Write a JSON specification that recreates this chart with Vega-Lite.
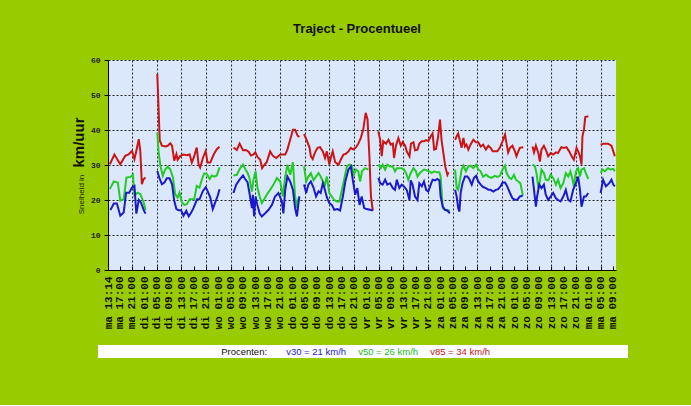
{
  "$schema": "https://vega.github.io/schema/vega-lite/v6.json",
  "background": "#99cc00",
  "padding": {"left": 71, "top": 23, "right": 64, "bottom": 47},
  "config": {"view": {"stroke": null}, "font": "Liberation Sans"},
  "spacing": 16,
  "center": true,
  "resolve": {"scale": {"x": "independent", "y": "independent", "color": "independent"}},
  "vconcat": [
    {
      "width": 508,
      "height": 210,
      "view": {"fill": "#dbe8fc", "stroke": null},
      "title": {"text": "Traject - Procentueel", "font": "Liberation Sans", "fontSize": 13, "fontWeight": "bold", "color": "#111111", "offset": 20, "anchor": "middle", "frame": "group", "dx": -5},
      "data": {"values": [
        {"s":"v85","g":1,"t":13.8,"v":30.2},{"s":"v85","g":1,"t":15.3,"v":33},{"s":"v85","g":1,"t":17.2,"v":30.2},{"s":"v85","g":1,"t":18.8,"v":32.6},{"s":"v85","g":1,"t":19.9,"v":33},{"s":"v85","g":1,"t":21,"v":34},{"s":"v85","g":1,"t":21.8,"v":31.7},{"s":"v85","g":1,"t":22.4,"v":34},{"s":"v85","g":1,"t":23.2,"v":37.4},{"s":"v85","g":1,"t":23.7,"v":34},{"s":"v85","g":1,"t":24.2,"v":24.5},{"s":"v85","g":1,"t":24.8,"v":26},{"s":"v85","g":1,"t":25.4,"v":26.4},
        {"s":"v85","g":2,"t":29.2,"v":56},{"s":"v85","g":2,"t":30,"v":37},{"s":"v85","g":2,"t":30.7,"v":35.5},{"s":"v85","g":2,"t":31.8,"v":35.3},{"s":"v85","g":2,"t":32.6,"v":35.5},{"s":"v85","g":2,"t":33.4,"v":36.2},{"s":"v85","g":2,"t":34,"v":35.5},{"s":"v85","g":2,"t":34.7,"v":31.2},{"s":"v85","g":2,"t":35.4,"v":33.1},{"s":"v85","g":2,"t":35.8,"v":31.5},{"s":"v85","g":2,"t":36.7,"v":32.6},{"s":"v85","g":2,"t":37.7,"v":33},{"s":"v85","g":2,"t":38.8,"v":32.8},{"s":"v85","g":2,"t":39.7,"v":33},{"s":"v85","g":2,"t":40.4,"v":30.7},{"s":"v85","g":2,"t":41,"v":32},{"s":"v85","g":2,"t":42,"v":35},{"s":"v85","g":2,"t":42.6,"v":30.2},{"s":"v85","g":2,"t":43.1,"v":29.3},{"s":"v85","g":2,"t":44,"v":32},{"s":"v85","g":2,"t":44.9,"v":34},{"s":"v85","g":2,"t":45.5,"v":30.7},{"s":"v85","g":2,"t":46.4,"v":30.7},{"s":"v85","g":2,"t":47.5,"v":33},{"s":"v85","g":2,"t":48.5,"v":34.5},{"s":"v85","g":2,"t":49.4,"v":35.2},
        {"s":"v85","g":3,"t":53.9,"v":35},{"s":"v85","g":3,"t":55,"v":34.3},{"s":"v85","g":3,"t":55.9,"v":36.1},{"s":"v85","g":3,"t":57,"v":34.2},{"s":"v85","g":3,"t":58,"v":34.3},{"s":"v85","g":3,"t":58.8,"v":33.8},{"s":"v85","g":3,"t":59.6,"v":32.7},{"s":"v85","g":3,"t":60.4,"v":33},{"s":"v85","g":3,"t":61,"v":33.6},{"s":"v85","g":3,"t":61.7,"v":32.3},{"s":"v85","g":3,"t":62.6,"v":31.5},{"s":"v85","g":3,"t":63.2,"v":29.1},{"s":"v85","g":3,"t":63.9,"v":30},{"s":"v85","g":3,"t":64.7,"v":30.8},{"s":"v85","g":3,"t":65.8,"v":33.9},{"s":"v85","g":3,"t":66.7,"v":32.6},{"s":"v85","g":3,"t":67.8,"v":32},{"s":"v85","g":3,"t":69.1,"v":33},{"s":"v85","g":3,"t":70.7,"v":33},{"s":"v85","g":3,"t":71.4,"v":34.4},{"s":"v85","g":3,"t":72.3,"v":37.2},{"s":"v85","g":3,"t":73.2,"v":40.1},{"s":"v85","g":3,"t":73.9,"v":40.1},{"s":"v85","g":3,"t":74.7,"v":38.4},{"s":"v85","g":3,"t":75.3,"v":38},
        {"s":"v85","g":4,"t":76.8,"v":38.8},{"s":"v85","g":4,"t":77.7,"v":37},{"s":"v85","g":4,"t":78.6,"v":34.9},{"s":"v85","g":4,"t":79,"v":32.5},{"s":"v85","g":4,"t":79.6,"v":31.7},{"s":"v85","g":4,"t":80.4,"v":33.7},{"s":"v85","g":4,"t":81.2,"v":34.9},{"s":"v85","g":4,"t":82,"v":35.1},{"s":"v85","g":4,"t":82.9,"v":33.9},{"s":"v85","g":4,"t":83.6,"v":32},{"s":"v85","g":4,"t":84.2,"v":33.9},{"s":"v85","g":4,"t":85,"v":30.1},{"s":"v85","g":4,"t":85.6,"v":32.5},{"s":"v85","g":4,"t":86.1,"v":33.9},{"s":"v85","g":4,"t":86.9,"v":30.8},{"s":"v85","g":4,"t":88,"v":30.1},{"s":"v85","g":4,"t":88.7,"v":31.5},{"s":"v85","g":4,"t":89.6,"v":33},{"s":"v85","g":4,"t":90.4,"v":33.2},{"s":"v85","g":4,"t":91.2,"v":33.9},{"s":"v85","g":4,"t":92,"v":34.9},{"s":"v85","g":4,"t":92.8,"v":34.4},{"s":"v85","g":4,"t":93.7,"v":35.1},{"s":"v85","g":4,"t":94.4,"v":36.1},{"s":"v85","g":4,"t":95.2,"v":37.7},{"s":"v85","g":4,"t":96,"v":40.1},{"s":"v85","g":4,"t":96.8,"v":44.9},{"s":"v85","g":4,"t":97.4,"v":43},{"s":"v85","g":4,"t":98,"v":32.5},{"s":"v85","g":4,"t":98.5,"v":21},{"s":"v85","g":4,"t":99.1,"v":17},
        {"s":"v85","g":5,"t":100.9,"v":39.6},{"s":"v85","g":5,"t":101.5,"v":37.2},{"s":"v85","g":5,"t":102,"v":32.5},{"s":"v85","g":5,"t":102.5,"v":36.8},{"s":"v85","g":5,"t":103.4,"v":36.1},{"s":"v85","g":5,"t":104.2,"v":37.2},{"s":"v85","g":5,"t":104.9,"v":35.8},{"s":"v85","g":5,"t":105.6,"v":36.1},{"s":"v85","g":5,"t":106,"v":32},{"s":"v85","g":5,"t":106.6,"v":35.5},{"s":"v85","g":5,"t":107.4,"v":37.7},{"s":"v85","g":5,"t":108.2,"v":35.5},{"s":"v85","g":5,"t":108.8,"v":36.5},{"s":"v85","g":5,"t":109.6,"v":35.5},{"s":"v85","g":5,"t":110.1,"v":33.9},{"s":"v85","g":5,"t":111,"v":32.5},{"s":"v85","g":5,"t":111.5,"v":36.1},{"s":"v85","g":5,"t":112.3,"v":36.5},{"s":"v85","g":5,"t":112.8,"v":34.2},{"s":"v85","g":5,"t":113.6,"v":34.4},{"s":"v85","g":5,"t":114.2,"v":36.1},{"s":"v85","g":5,"t":115,"v":36.8},{"s":"v85","g":5,"t":115.7,"v":36.8},{"s":"v85","g":5,"t":116.4,"v":37.1},{"s":"v85","g":5,"t":117.1,"v":36.8},{"s":"v85","g":5,"t":117.9,"v":38.2},{"s":"v85","g":5,"t":118.5,"v":39},{"s":"v85","g":5,"t":119,"v":34.4},{"s":"v85","g":5,"t":119.6,"v":34.6},{"s":"v85","g":5,"t":120.3,"v":38.2},{"s":"v85","g":5,"t":120.9,"v":43},{"s":"v85","g":5,"t":121.4,"v":37.2},{"s":"v85","g":5,"t":122,"v":33.4},{"s":"v85","g":5,"t":122.6,"v":29.6},{"s":"v85","g":5,"t":123.3,"v":27.2},{"s":"v85","g":5,"t":123.7,"v":27.9},
        {"s":"v85","g":6,"t":125.8,"v":37.2},{"s":"v85","g":6,"t":126.3,"v":38.2},{"s":"v85","g":6,"t":126.8,"v":39},{"s":"v85","g":6,"t":127.4,"v":36.8},{"s":"v85","g":6,"t":127.9,"v":34.9},{"s":"v85","g":6,"t":128.5,"v":37.7},{"s":"v85","g":6,"t":129,"v":35.3},{"s":"v85","g":6,"t":129.5,"v":35.8},{"s":"v85","g":6,"t":130.1,"v":34.4},{"s":"v85","g":6,"t":130.8,"v":35.8},{"s":"v85","g":6,"t":131.7,"v":37.2},{"s":"v85","g":6,"t":132.6,"v":36.5},{"s":"v85","g":6,"t":133.3,"v":36.5},{"s":"v85","g":6,"t":134.1,"v":35.3},{"s":"v85","g":6,"t":134.9,"v":35.8},{"s":"v85","g":6,"t":135.8,"v":34.4},{"s":"v85","g":6,"t":136.6,"v":35.5},{"s":"v85","g":6,"t":137.3,"v":34.9},{"s":"v85","g":6,"t":138,"v":33.9},{"s":"v85","g":6,"t":138.7,"v":33.9},{"s":"v85","g":6,"t":139.5,"v":33.9},{"s":"v85","g":6,"t":140.3,"v":34.9},{"s":"v85","g":6,"t":141.2,"v":36.8},{"s":"v85","g":6,"t":142,"v":38.7},{"s":"v85","g":6,"t":142.5,"v":36.1},{"s":"v85","g":6,"t":143,"v":33.6},{"s":"v85","g":6,"t":143.6,"v":34.9},{"s":"v85","g":6,"t":144.4,"v":35.5},{"s":"v85","g":6,"t":145.2,"v":33.9},{"s":"v85","g":6,"t":145.7,"v":32.5},{"s":"v85","g":6,"t":146.3,"v":33.9},{"s":"v85","g":6,"t":146.8,"v":34.9},{"s":"v85","g":6,"t":147.9,"v":35.1},
        {"s":"v85","g":7,"t":150.9,"v":35.3},{"s":"v85","g":7,"t":151.4,"v":33.6},{"s":"v85","g":7,"t":152,"v":35.5},{"s":"v85","g":7,"t":152.8,"v":33.4},{"s":"v85","g":7,"t":153.3,"v":31},{"s":"v85","g":7,"t":153.8,"v":34.4},{"s":"v85","g":7,"t":154.6,"v":35.5},{"s":"v85","g":7,"t":155.2,"v":34.4},{"s":"v85","g":7,"t":156,"v":32.5},{"s":"v85","g":7,"t":156.8,"v":33.4},{"s":"v85","g":7,"t":157.6,"v":33},{"s":"v85","g":7,"t":158.5,"v":33.6},{"s":"v85","g":7,"t":159.2,"v":33.4},{"s":"v85","g":7,"t":159.8,"v":34.4},{"s":"v85","g":7,"t":160.3,"v":35.1},{"s":"v85","g":7,"t":161.1,"v":34.9},{"s":"v85","g":7,"t":161.9,"v":35.1},{"s":"v85","g":7,"t":162.8,"v":33.9},{"s":"v85","g":7,"t":163.6,"v":32.5},{"s":"v85","g":7,"t":164.3,"v":31.5},{"s":"v85","g":7,"t":165.2,"v":34.9},{"s":"v85","g":7,"t":165.7,"v":33.9},{"s":"v85","g":7,"t":166.3,"v":32.5},{"s":"v85","g":7,"t":166.8,"v":30.1},{"s":"v85","g":7,"t":167.1,"v":38.2},{"s":"v85","g":7,"t":167.6,"v":40.1},{"s":"v85","g":7,"t":168,"v":43.7},{"s":"v85","g":7,"t":169,"v":43.9},
        {"s":"v85","g":8,"t":173,"v":35.8},{"s":"v85","g":8,"t":174,"v":36.1},{"s":"v85","g":8,"t":175.4,"v":36.1},{"s":"v85","g":8,"t":176.5,"v":35.5},{"s":"v85","g":8,"t":177.3,"v":33.4},{"s":"v85","g":8,"t":177.6,"v":32.5},

        {"s":"v50","g":1,"t":13.8,"v":23.1},{"s":"v50","g":1,"t":15.1,"v":25.3},{"s":"v50","g":1,"t":16.4,"v":25},{"s":"v50","g":1,"t":17.2,"v":19.8},{"s":"v50","g":1,"t":18.3,"v":20.2},{"s":"v50","g":1,"t":19.2,"v":26.4},{"s":"v50","g":1,"t":20.5,"v":26.6},{"s":"v50","g":1,"t":21.3,"v":27.2},{"s":"v50","g":1,"t":21.8,"v":21.2},{"s":"v50","g":1,"t":22.8,"v":22.1},{"s":"v50","g":1,"t":23.7,"v":21.7},{"s":"v50","g":1,"t":24.8,"v":19.3},{"s":"v50","g":1,"t":25.4,"v":17.1},
        {"s":"v50","g":2,"t":29.2,"v":39.3},{"s":"v50","g":2,"t":29.6,"v":34},{"s":"v50","g":2,"t":30.2,"v":29.8},{"s":"v50","g":2,"t":31,"v":26.9},{"s":"v50","g":2,"t":31.8,"v":28.8},{"s":"v50","g":2,"t":32.6,"v":29.5},{"s":"v50","g":2,"t":33.4,"v":28.8},{"s":"v50","g":2,"t":34.3,"v":26.4},{"s":"v50","g":2,"t":35,"v":21.7},{"s":"v50","g":2,"t":35.8,"v":20.7},{"s":"v50","g":2,"t":36.4,"v":22.1},{"s":"v50","g":2,"t":37.2,"v":19.3},{"s":"v50","g":2,"t":38,"v":18.6},{"s":"v50","g":2,"t":38.8,"v":18.8},{"s":"v50","g":2,"t":39.7,"v":20.2},{"s":"v50","g":2,"t":40.4,"v":20.2},{"s":"v50","g":2,"t":41.2,"v":20.2},{"s":"v50","g":2,"t":42,"v":24},{"s":"v50","g":2,"t":42.9,"v":23.5},{"s":"v50","g":2,"t":43.7,"v":26},{"s":"v50","g":2,"t":44.4,"v":27.6},{"s":"v50","g":2,"t":45.3,"v":27.4},{"s":"v50","g":2,"t":46.2,"v":26},{"s":"v50","g":2,"t":46.9,"v":27},{"s":"v50","g":2,"t":47.7,"v":26.7},{"s":"v50","g":2,"t":48.5,"v":27},{"s":"v50","g":2,"t":49.4,"v":29.3},
        {"s":"v50","g":3,"t":53.9,"v":27},{"s":"v50","g":3,"t":55,"v":27.2},{"s":"v50","g":3,"t":56.1,"v":29.1},{"s":"v50","g":3,"t":57,"v":30.1},{"s":"v50","g":3,"t":57.8,"v":28.7},{"s":"v50","g":3,"t":58.5,"v":27.7},{"s":"v50","g":3,"t":59.1,"v":26.3},{"s":"v50","g":3,"t":59.9,"v":22.4},{"s":"v50","g":3,"t":60.4,"v":25.8},{"s":"v50","g":3,"t":61.1,"v":28.2},{"s":"v50","g":3,"t":61.7,"v":23.4},{"s":"v50","g":3,"t":62.4,"v":21},{"s":"v50","g":3,"t":63.1,"v":19.1},{"s":"v50","g":3,"t":63.9,"v":20.2},{"s":"v50","g":3,"t":64.7,"v":21.5},{"s":"v50","g":3,"t":65.8,"v":22.9},{"s":"v50","g":3,"t":66.9,"v":24.4},{"s":"v50","g":3,"t":68,"v":26.3},{"s":"v50","g":3,"t":69.1,"v":25.3},{"s":"v50","g":3,"t":69.9,"v":21},{"s":"v50","g":3,"t":70.7,"v":26.7},{"s":"v50","g":3,"t":71.4,"v":30.1},{"s":"v50","g":3,"t":72.3,"v":27.2},{"s":"v50","g":3,"t":73.2,"v":30.8},{"s":"v50","g":3,"t":73.9,"v":21},{"s":"v50","g":3,"t":74.5,"v":17.7},{"s":"v50","g":3,"t":75,"v":20.5},{"s":"v50","g":3,"t":75.3,"v":21},
        {"s":"v50","g":4,"t":76.8,"v":29.6},{"s":"v50","g":4,"t":77.5,"v":25.3},{"s":"v50","g":4,"t":78.2,"v":26.7},{"s":"v50","g":4,"t":79,"v":27.7},{"s":"v50","g":4,"t":79.9,"v":25.6},{"s":"v50","g":4,"t":80.7,"v":26.7},{"s":"v50","g":4,"t":81.5,"v":27.7},{"s":"v50","g":4,"t":82.2,"v":26.7},{"s":"v50","g":4,"t":82.9,"v":25.3},{"s":"v50","g":4,"t":83.6,"v":24.4},{"s":"v50","g":4,"t":84.2,"v":26.7},{"s":"v50","g":4,"t":85,"v":22},{"s":"v50","g":4,"t":85.8,"v":21},{"s":"v50","g":4,"t":86.6,"v":20},{"s":"v50","g":4,"t":87.4,"v":19.6},{"s":"v50","g":4,"t":88.3,"v":19.6},{"s":"v50","g":4,"t":89,"v":22.5},{"s":"v50","g":4,"t":89.8,"v":25.8},{"s":"v50","g":4,"t":90.7,"v":29.6},{"s":"v50","g":4,"t":91.5,"v":30.1},{"s":"v50","g":4,"t":92.3,"v":29.8},{"s":"v50","g":4,"t":93,"v":27.2},{"s":"v50","g":4,"t":93.7,"v":28.7},{"s":"v50","g":4,"t":94.4,"v":28.2},{"s":"v50","g":4,"t":95,"v":25.3},{"s":"v50","g":4,"t":95.6,"v":28.2},{"s":"v50","g":4,"t":96.6,"v":29.1},{"s":"v50","g":4,"t":97.7,"v":28.7},
        {"s":"v50","g":5,"t":100.9,"v":30.1},{"s":"v50","g":5,"t":101.7,"v":29.1},{"s":"v50","g":5,"t":102.3,"v":30.1},{"s":"v50","g":5,"t":103.1,"v":28.7},{"s":"v50","g":5,"t":103.8,"v":30.1},{"s":"v50","g":5,"t":104.7,"v":29.6},{"s":"v50","g":5,"t":105.6,"v":29.6},{"s":"v50","g":5,"t":106.3,"v":28.2},{"s":"v50","g":5,"t":106.9,"v":29.1},{"s":"v50","g":5,"t":107.7,"v":29.1},{"s":"v50","g":5,"t":108.5,"v":29.1},{"s":"v50","g":5,"t":109.2,"v":28.7},{"s":"v50","g":5,"t":109.9,"v":27.7},{"s":"v50","g":5,"t":110.6,"v":25.8},{"s":"v50","g":5,"t":111.4,"v":27.7},{"s":"v50","g":5,"t":112.3,"v":29.1},{"s":"v50","g":5,"t":113.1,"v":28.2},{"s":"v50","g":5,"t":113.6,"v":26.7},{"s":"v50","g":5,"t":114.2,"v":27.5},{"s":"v50","g":5,"t":115,"v":28.2},{"s":"v50","g":5,"t":115.7,"v":28.7},{"s":"v50","g":5,"t":116.6,"v":28.5},{"s":"v50","g":5,"t":117.4,"v":28.2},{"s":"v50","g":5,"t":118.2,"v":27.7},{"s":"v50","g":5,"t":119,"v":28.2},{"s":"v50","g":5,"t":119.8,"v":27.9},{"s":"v50","g":5,"t":120.7,"v":27.9},{"s":"v50","g":5,"t":121.1,"v":26.7},{"s":"v50","g":5,"t":121.4,"v":22.9},{"s":"v50","g":5,"t":121.8,"v":17.7},{"s":"v50","g":5,"t":122.5,"v":17.2},{"s":"v50","g":5,"t":123.3,"v":17},{"s":"v50","g":5,"t":124.1,"v":17},
        {"s":"v50","g":6,"t":125.8,"v":28.7},{"s":"v50","g":6,"t":126.3,"v":23.4},{"s":"v50","g":6,"t":126.8,"v":22.9},{"s":"v50","g":6,"t":127.4,"v":25.8},{"s":"v50","g":6,"t":127.9,"v":28.7},{"s":"v50","g":6,"t":128.5,"v":29.8},{"s":"v50","g":6,"t":129.3,"v":28.2},{"s":"v50","g":6,"t":130.1,"v":29.6},{"s":"v50","g":6,"t":130.8,"v":29.8},{"s":"v50","g":6,"t":131.7,"v":29.1},{"s":"v50","g":6,"t":132.6,"v":30.1},{"s":"v50","g":6,"t":133.3,"v":28.7},{"s":"v50","g":6,"t":134.1,"v":28.2},{"s":"v50","g":6,"t":134.9,"v":26.6},{"s":"v50","g":6,"t":135.8,"v":27.3},{"s":"v50","g":6,"t":136.6,"v":26.7},{"s":"v50","g":6,"t":137.6,"v":26.3},{"s":"v50","g":6,"t":138.7,"v":26.9},{"s":"v50","g":6,"t":139.5,"v":26.6},{"s":"v50","g":6,"t":140.3,"v":26.9},{"s":"v50","g":6,"t":141.2,"v":28.7},{"s":"v50","g":6,"t":142,"v":29.8},{"s":"v50","g":6,"t":142.5,"v":27.7},{"s":"v50","g":6,"t":143.4,"v":26.3},{"s":"v50","g":6,"t":144.1,"v":26},{"s":"v50","g":6,"t":144.9,"v":27.2},{"s":"v50","g":6,"t":145.5,"v":25.8},{"s":"v50","g":6,"t":146.3,"v":25.3},{"s":"v50","g":6,"t":147,"v":24.8},{"s":"v50","g":6,"t":147.7,"v":21.5},{"s":"v50","g":6,"t":147.9,"v":21.2},
        {"s":"v50","g":7,"t":150.9,"v":30.1},{"s":"v50","g":7,"t":151.7,"v":29.6},{"s":"v50","g":7,"t":152.2,"v":27.7},{"s":"v50","g":7,"t":152.8,"v":23.4},{"s":"v50","g":7,"t":153.3,"v":25.3},{"s":"v50","g":7,"t":153.8,"v":28.7},{"s":"v50","g":7,"t":154.6,"v":27.7},{"s":"v50","g":7,"t":155.2,"v":25.8},{"s":"v50","g":7,"t":156,"v":25.6},{"s":"v50","g":7,"t":156.8,"v":27.2},{"s":"v50","g":7,"t":157.6,"v":26.3},{"s":"v50","g":7,"t":158.5,"v":24.4},{"s":"v50","g":7,"t":159.2,"v":25.8},{"s":"v50","g":7,"t":160,"v":23.4},{"s":"v50","g":7,"t":160.9,"v":24.8},{"s":"v50","g":7,"t":161.7,"v":27.7},{"s":"v50","g":7,"t":162.5,"v":26.7},{"s":"v50","g":7,"t":163.2,"v":28.2},{"s":"v50","g":7,"t":163.9,"v":25.8},{"s":"v50","g":7,"t":164.3,"v":23.9},{"s":"v50","g":7,"t":165,"v":28.2},{"s":"v50","g":7,"t":165.7,"v":29.1},{"s":"v50","g":7,"t":166.3,"v":26.7},{"s":"v50","g":7,"t":166.8,"v":28.7},{"s":"v50","g":7,"t":167.6,"v":29.1},{"s":"v50","g":7,"t":168.2,"v":27.7},{"s":"v50","g":7,"t":169,"v":26},
        {"s":"v50","g":8,"t":173,"v":27.7},{"s":"v50","g":8,"t":173.6,"v":28.7},{"s":"v50","g":8,"t":174.4,"v":28.2},{"s":"v50","g":8,"t":175.4,"v":29.1},{"s":"v50","g":8,"t":176.2,"v":28.7},{"s":"v50","g":8,"t":177.1,"v":28.9},{"s":"v50","g":8,"t":177.6,"v":28.2},

        {"s":"v30","g":1,"t":14,"v":17.1},{"s":"v30","g":1,"t":15.1,"v":19},{"s":"v30","g":1,"t":16.1,"v":19},{"s":"v30","g":1,"t":17.2,"v":15.5},{"s":"v30","g":1,"t":18.3,"v":16.4},{"s":"v30","g":1,"t":19.1,"v":22.1},{"s":"v30","g":1,"t":20.1,"v":22.1},{"s":"v30","g":1,"t":21,"v":23.6},{"s":"v30","g":1,"t":21.8,"v":24},{"s":"v30","g":1,"t":22.4,"v":16.1},{"s":"v30","g":1,"t":23.2,"v":20},{"s":"v30","g":1,"t":23.9,"v":19.3},{"s":"v30","g":1,"t":24.8,"v":17.1},{"s":"v30","g":1,"t":25.4,"v":16.1},
        {"s":"v30","g":2,"t":29.2,"v":28.3},{"s":"v30","g":2,"t":30,"v":26},{"s":"v30","g":2,"t":30.7,"v":24.5},{"s":"v30","g":2,"t":31.5,"v":25},{"s":"v30","g":2,"t":32.3,"v":26.2},{"s":"v30","g":2,"t":33.2,"v":26.2},{"s":"v30","g":2,"t":34,"v":24.5},{"s":"v30","g":2,"t":34.7,"v":19.8},{"s":"v30","g":2,"t":35.4,"v":17.4},{"s":"v30","g":2,"t":36.1,"v":17.1},{"s":"v30","g":2,"t":36.9,"v":17.1},{"s":"v30","g":2,"t":37.7,"v":15.5},{"s":"v30","g":2,"t":38.6,"v":16.9},{"s":"v30","g":2,"t":39.4,"v":15.3},{"s":"v30","g":2,"t":40.2,"v":16.4},{"s":"v30","g":2,"t":41,"v":17.8},{"s":"v30","g":2,"t":42.1,"v":20.2},{"s":"v30","g":2,"t":42.9,"v":20.2},{"s":"v30","g":2,"t":44,"v":22.6},{"s":"v30","g":2,"t":44.9,"v":23.6},{"s":"v30","g":2,"t":45.5,"v":22.6},{"s":"v30","g":2,"t":46.4,"v":20.7},{"s":"v30","g":2,"t":47.2,"v":17.4},{"s":"v30","g":2,"t":48,"v":19.3},{"s":"v30","g":2,"t":48.8,"v":21.2},{"s":"v30","g":2,"t":49.4,"v":23.1},
        {"s":"v30","g":3,"t":53.9,"v":22},{"s":"v30","g":3,"t":54.8,"v":24.4},{"s":"v30","g":3,"t":55.9,"v":25.8},{"s":"v30","g":3,"t":57,"v":27},{"s":"v30","g":3,"t":57.7,"v":26},{"s":"v30","g":3,"t":58.5,"v":25},{"s":"v30","g":3,"t":59.1,"v":22},{"s":"v30","g":3,"t":59.9,"v":17.7},{"s":"v30","g":3,"t":60.2,"v":21.5},{"s":"v30","g":3,"t":60.6,"v":15.3},{"s":"v30","g":3,"t":61.1,"v":21},{"s":"v30","g":3,"t":61.5,"v":19.1},{"s":"v30","g":3,"t":62.4,"v":16.2},{"s":"v30","g":3,"t":63.1,"v":15.3},{"s":"v30","g":3,"t":64.2,"v":16.2},{"s":"v30","g":3,"t":65.3,"v":17.2},{"s":"v30","g":3,"t":66.4,"v":18.6},{"s":"v30","g":3,"t":67.4,"v":21},{"s":"v30","g":3,"t":68.5,"v":22},{"s":"v30","g":3,"t":69.6,"v":19.6},{"s":"v30","g":3,"t":70.1,"v":16.2},{"s":"v30","g":3,"t":70.7,"v":22.9},{"s":"v30","g":3,"t":71.4,"v":26.7},{"s":"v30","g":3,"t":72.3,"v":25.3},{"s":"v30","g":3,"t":73.2,"v":22.9},{"s":"v30","g":3,"t":73.9,"v":17.7},{"s":"v30","g":3,"t":74.5,"v":15.3},{"s":"v30","g":3,"t":75,"v":19.1},{"s":"v30","g":3,"t":75.3,"v":21},
        {"s":"v30","g":4,"t":76.8,"v":24.4},{"s":"v30","g":4,"t":77.5,"v":22},{"s":"v30","g":4,"t":78.2,"v":24.4},{"s":"v30","g":4,"t":79,"v":25.3},{"s":"v30","g":4,"t":79.9,"v":23.5},{"s":"v30","g":4,"t":80.7,"v":21},{"s":"v30","g":4,"t":81.5,"v":22.5},{"s":"v30","g":4,"t":82.2,"v":22},{"s":"v30","g":4,"t":82.9,"v":24.8},{"s":"v30","g":4,"t":83.3,"v":23.8},{"s":"v30","g":4,"t":84.2,"v":20.8},{"s":"v30","g":4,"t":85,"v":19.1},{"s":"v30","g":4,"t":85.8,"v":18.6},{"s":"v30","g":4,"t":86.6,"v":17.2},{"s":"v30","g":4,"t":87.6,"v":17.4},{"s":"v30","g":4,"t":88.5,"v":17},{"s":"v30","g":4,"t":89.4,"v":21},{"s":"v30","g":4,"t":90.2,"v":25.3},{"s":"v30","g":4,"t":91.2,"v":28.7},{"s":"v30","g":4,"t":92,"v":29.6},{"s":"v30","g":4,"t":92.6,"v":25.8},{"s":"v30","g":4,"t":93.4,"v":21.5},{"s":"v30","g":4,"t":94.1,"v":23.4},{"s":"v30","g":4,"t":94.8,"v":18.6},{"s":"v30","g":4,"t":95.5,"v":21},{"s":"v30","g":4,"t":96.3,"v":17.7},{"s":"v30","g":4,"t":97.1,"v":17.4},{"s":"v30","g":4,"t":98.2,"v":17.2},{"s":"v30","g":4,"t":99.1,"v":17},
        {"s":"v30","g":5,"t":100.9,"v":26.3},{"s":"v30","g":5,"t":101.5,"v":24.8},{"s":"v30","g":5,"t":102.3,"v":24.4},{"s":"v30","g":5,"t":103.1,"v":25.8},{"s":"v30","g":5,"t":103.8,"v":24.4},{"s":"v30","g":5,"t":104.7,"v":24.8},{"s":"v30","g":5,"t":105.6,"v":23.4},{"s":"v30","g":5,"t":106.3,"v":22.9},{"s":"v30","g":5,"t":106.9,"v":25.8},{"s":"v30","g":5,"t":107.7,"v":23.4},{"s":"v30","g":5,"t":108.5,"v":24.4},{"s":"v30","g":5,"t":109.2,"v":23.9},{"s":"v30","g":5,"t":110.1,"v":22.9},{"s":"v30","g":5,"t":111,"v":20},{"s":"v30","g":5,"t":111.4,"v":25.6},{"s":"v30","g":5,"t":112,"v":24.4},{"s":"v30","g":5,"t":112.8,"v":21},{"s":"v30","g":5,"t":113.6,"v":20},{"s":"v30","g":5,"t":114.2,"v":24.8},{"s":"v30","g":5,"t":115,"v":23.9},{"s":"v30","g":5,"t":115.7,"v":25.3},{"s":"v30","g":5,"t":116.4,"v":22.9},{"s":"v30","g":5,"t":117.1,"v":22.4},{"s":"v30","g":5,"t":117.9,"v":24.4},{"s":"v30","g":5,"t":118.5,"v":25.8},{"s":"v30","g":5,"t":119.3,"v":25.6},{"s":"v30","g":5,"t":120,"v":26},{"s":"v30","g":5,"t":120.7,"v":25.6},{"s":"v30","g":5,"t":121.1,"v":21},{"s":"v30","g":5,"t":121.8,"v":18.1},{"s":"v30","g":5,"t":122.5,"v":17.2},{"s":"v30","g":5,"t":123.3,"v":17},{"s":"v30","g":5,"t":124.1,"v":16.2},
        {"s":"v30","g":6,"t":125.8,"v":22.9},{"s":"v30","g":6,"t":126.3,"v":21},{"s":"v30","g":6,"t":126.8,"v":17.7},{"s":"v30","g":6,"t":127.2,"v":16.7},{"s":"v30","g":6,"t":127.6,"v":22},{"s":"v30","g":6,"t":128.2,"v":24.8},{"s":"v30","g":6,"t":129,"v":26.7},{"s":"v30","g":6,"t":129.8,"v":26.7},{"s":"v30","g":6,"t":130.4,"v":26},{"s":"v30","g":6,"t":131.2,"v":24.4},{"s":"v30","g":6,"t":131.9,"v":26.3},{"s":"v30","g":6,"t":132.6,"v":26.9},{"s":"v30","g":6,"t":133.3,"v":25.3},{"s":"v30","g":6,"t":134.1,"v":24.4},{"s":"v30","g":6,"t":134.9,"v":23.7},{"s":"v30","g":6,"t":135.8,"v":23.4},{"s":"v30","g":6,"t":136.6,"v":22.9},{"s":"v30","g":6,"t":137.3,"v":22.9},{"s":"v30","g":6,"t":138.2,"v":22.4},{"s":"v30","g":6,"t":139,"v":22.9},{"s":"v30","g":6,"t":139.8,"v":23.1},{"s":"v30","g":6,"t":140.6,"v":24},{"s":"v30","g":6,"t":141.2,"v":25},{"s":"v30","g":6,"t":142,"v":25},{"s":"v30","g":6,"t":142.7,"v":23.9},{"s":"v30","g":6,"t":143.6,"v":22},{"s":"v30","g":6,"t":144.4,"v":20.5},{"s":"v30","g":6,"t":145.2,"v":20.1},{"s":"v30","g":6,"t":146,"v":20.1},{"s":"v30","g":6,"t":146.8,"v":21},{"s":"v30","g":6,"t":147.7,"v":21.2},
        {"s":"v30","g":7,"t":150.9,"v":26.7},{"s":"v30","g":7,"t":151.4,"v":22.9},{"s":"v30","g":7,"t":152,"v":18.1},{"s":"v30","g":7,"t":152.4,"v":21},{"s":"v30","g":7,"t":153.1,"v":24.4},{"s":"v30","g":7,"t":153.8,"v":23.4},{"s":"v30","g":7,"t":154.6,"v":24.4},{"s":"v30","g":7,"t":155.2,"v":21.5},{"s":"v30","g":7,"t":156,"v":20},{"s":"v30","g":7,"t":156.8,"v":21},{"s":"v30","g":7,"t":157.6,"v":22},{"s":"v30","g":7,"t":158.5,"v":20.5},{"s":"v30","g":7,"t":159.2,"v":20},{"s":"v30","g":7,"t":160,"v":19.6},{"s":"v30","g":7,"t":160.9,"v":21},{"s":"v30","g":7,"t":161.7,"v":22.9},{"s":"v30","g":7,"t":162.5,"v":20},{"s":"v30","g":7,"t":163.2,"v":19.6},{"s":"v30","g":7,"t":164.1,"v":22.9},{"s":"v30","g":7,"t":165,"v":24.8},{"s":"v30","g":7,"t":165.7,"v":26.7},{"s":"v30","g":7,"t":166.3,"v":22.9},{"s":"v30","g":7,"t":166.8,"v":18.1},{"s":"v30","g":7,"t":167.6,"v":21},{"s":"v30","g":7,"t":168.2,"v":21},{"s":"v30","g":7,"t":169,"v":22},
        {"s":"v30","g":8,"t":173,"v":22},{"s":"v30","g":8,"t":173.8,"v":25.8},{"s":"v30","g":8,"t":174.7,"v":23.9},{"s":"v30","g":8,"t":175.8,"v":24.8},{"s":"v30","g":8,"t":176.5,"v":25.8},{"s":"v30","g":8,"t":177.1,"v":24.4},{"s":"v30","g":8,"t":177.6,"v":23.9}
      ]},
      "layer": [
        {
          "mark": {"type": "line", "strokeWidth": 2, "clip": true},
          "encoding": {
            "x": {
              "field": "t", "type": "quantitative",
              "scale": {"domain": [13.23, 178], "nice": false, "zero": false},
              "axis": {
                "title": null,
                "values": [13.23,17,21,25,29,33,37,41,45,49,53,57,61,65,69,73,77,81,85,89,93,97,101,105,109,113,117,121,125,129,133,137,141,145,149,153,157,161,165,169,173,177],
                "labelExpr": "datum.value < 14 ? 'ma 13:14' : ['ma','di','wo','do','vr','za','zo','ma'][floor(datum.value / 24)] + ' ' + pad(datum.value % 24, 2, '0', 'left') + ':00'",
                "labelAngle": 270,
                "labelAlign": "right",
                "labelBaseline": "middle",
                "labelFont": "Liberation Mono",
                "labelFontSize": 11,
                "labelFontWeight": "bold",
                "labelColor": "#111111",
                "labelPadding": 10,
                "labelOverlap": false,
                "labelFlush": false,
                "tickSize": -4,
                "tickColor": "#000000",
                "domainColor": "#000000",
                "domainWidth": 1,
                "grid": true,
                "gridColor": "#222222",
                "gridDash": [2, 2],
                "gridWidth": 1,
                "gridOpacity": {"condition": {"test": "(datum.value - 21) % 8 == 0", "value": 1}, "value": 0}
              }
            },
            "y": {
              "field": "v", "type": "quantitative",
              "scale": {"domain": [0, 60], "nice": false},
              "axis": {
                "title": "Snelheid in",
                "titleFont": "Liberation Sans",
                "titleFontSize": 8,
                "titleFontWeight": "normal",
                "titleColor": "#222222",
                "titleAngle": 270,
                "titleAlign": "center",
                "titleBaseline": "alphabetic",
                "titleX": -25,
                "titleY": 134,
                "values": [0, 10, 20, 30, 40, 50, 60],
                "labelFont": "Liberation Mono",
                "labelFontSize": 8,
                "labelFontWeight": "bold",
                "labelColor": "#222222",
                "labelPadding": 4,
                "tickSize": 4,
                "tickColor": "#000000",
                "domainColor": "#000000",
                "grid": true,
                "gridColor": "#222222",
                "gridDash": [2, 2],
                "gridWidth": 1
              }
            },
            "color": {
              "field": "s", "type": "nominal",
              "scale": {"domain": ["v30", "v50", "v85"], "range": ["#1a1acc", "#22cc22", "#cc1414"]},
              "legend": null
            },
            "detail": {"field": "g", "type": "nominal"}
          }
        },
        {
          "transform": [{"filter": "datum.t < 14"}],
          "mark": {"type": "point", "opacity": 0},
          "encoding": {
            "y": {
              "field": "v", "type": "quantitative",
              "scale": {"domain": [0, 60], "nice": false},
              "axis": {
                "orient": "left",
                "title": "km/uur",
                "titleFont": "Liberation Sans",
                "titleFontSize": 15,
                "titleFontWeight": "bold",
                "titleColor": "#111111",
                "titleAngle": 270,
                "titleAlign": "center",
                "titleBaseline": "alphabetic",
                "titleX": -25,
                "titleY": 82,
                "labels": false,
                "ticks": false,
                "domain": false,
                "grid": false
              }
            }
          }
        }
      ],
      "resolve": {"scale": {"y": "independent"}, "axis": {"y": "independent"}}
    },
    {
      "width": 530,
      "height": 13,
      "view": {"fill": "#ffffff", "stroke": null},
      "data": {"values": [
        {"k": "Procenten:"},
        {"k": "v30 = 21 km/h"},
        {"k": "v50 = 26 km/h"},
        {"k": "v85 = 34 km/h"}
      ]},
      "mark": {"type": "text", "font": "Liberation Sans", "fontSize": 9.5, "baseline": "middle"},
      "encoding": {
        "x": {
          "field": "k", "type": "nominal", "sort": null,
          "scale": {"type": "point", "domain": [" 1", " 2", "Procenten:", "v30 = 21 km/h", "v50 = 26 km/h", "v85 = 34 km/h", " 3", " 4"], "padding": 0.18, "align": 0.08},
          "axis": null
        },
        "text": {"field": "k"},
        "color": {
          "field": "k", "type": "nominal", "sort": null,
          "scale": {"domain": ["Procenten:", "v30 = 21 km/h", "v50 = 26 km/h", "v85 = 34 km/h"], "range": ["#111111", "#1a1acc", "#22bb22", "#cc1414"]},
          "legend": null
        }
      }
    }
  ]
}
